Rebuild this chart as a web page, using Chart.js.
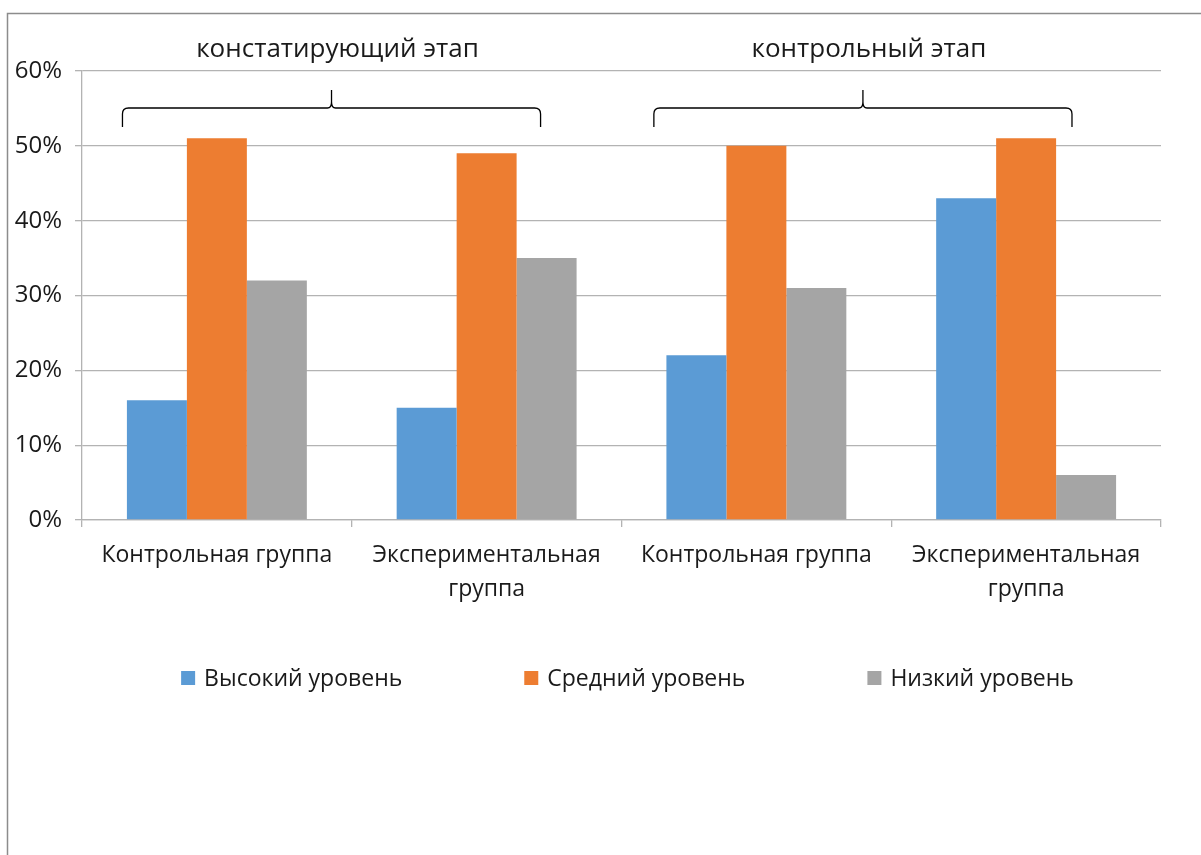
<!DOCTYPE html>
<html lang="ru">
<head>
    <meta charset="UTF-8">
    <title>Уровни по этапам</title>
    <script src="https://cdn.jsdelivr.net/npm/chart.js"></script>
    <style>
        html, body { margin: 0; padding: 0; background: #fff; }
        #wrap { width: 1201px; height: 855px; position: relative; }
    </style>
</head>
<body>
    <div id="wrap">
        <canvas id="chart" width="1201" height="855"></canvas>
    </div>

    <script>
        // data
        const categories = [
            ['Контрольная группа'],
            ['Экспериментальная', 'группа'],
            ['Контрольная группа'],
            ['Экспериментальная', 'группа']
        ];
        const seriesNames = ['Высокий уровень', 'Средний уровень', 'Низкий уровень'];
        const highLevel = [16, 15, 22, 43];
        const midLevel = [51, 49, 50, 51];
        const lowLevel = [32, 35, 31, 6];
        const yTicks = [0, 10, 20, 30, 40, 50, 60];
        const stages = ['констатирующий этап', 'контрольный этап'];

        const colors = ['#5b9bd5', '#ed7d31', '#a5a5a5'];
        const textColor = '#1a1a1a';
        const font = '"Open Sans", sans-serif';

        // brace spans in category units (left, right)
        const braceSpans = [[-0.35, 1.2], [1.62, 3.17]];

        const framePlugin = {
            id: 'frame',
            beforeDraw(chart) {
                const ctx = chart.ctx;
                ctx.save();
                ctx.strokeStyle = '#8c8c8c';
                ctx.lineWidth = 1.5;
                ctx.beginPath();
                ctx.moveTo(7.5, chart.height);
                ctx.lineTo(7.5, 13.5);
                ctx.lineTo(chart.width, 13.5);
                ctx.stroke();
                ctx.restore();
            }
        };

        const bracesPlugin = {
            id: 'braces',
            afterDraw(chart) {
                const ctx = chart.ctx;
                const x = chart.scales.x;
                ctx.save();
                ctx.strokeStyle = '#000';
                ctx.lineWidth = 1.3;
                braceSpans.forEach((span, i) => {
                    const l = x.getPixelForValue(span[0]);
                    const r = x.getPixelForValue(span[1]);
                    const m = (l + r) / 2;
                    const yEnd = 127, yLine = 108, yPeak = 90;
                    ctx.beginPath();
                    ctx.moveTo(l, yEnd);
                    ctx.lineTo(l, yLine + 6);
                    ctx.quadraticCurveTo(l, yLine, l + 6, yLine);
                    ctx.lineTo(m - 4, yLine);
                    ctx.quadraticCurveTo(m, yLine, m, yLine - 6);
                    ctx.lineTo(m, yPeak);
                    ctx.moveTo(m, yLine - 6);
                    ctx.quadraticCurveTo(m, yLine, m + 4, yLine);
                    ctx.lineTo(r - 6, yLine);
                    ctx.quadraticCurveTo(r, yLine, r, yLine + 6);
                    ctx.lineTo(r, yEnd);
                    ctx.stroke();

                    ctx.fillStyle = textColor;
                    ctx.font = '26px ' + font;
                    ctx.textAlign = 'center';
                    ctx.textBaseline = 'middle';
                    ctx.fillText(stages[i], m + 6, 50);
                });
                ctx.restore();
            }
        };

        // legend drawn under the axis labels, wide gaps like the original
        const legendPlugin = {
            id: 'wideLegend',
            afterDraw(chart) {
                const ctx = chart.ctx;
                const area = chart.chartArea;
                const gap = 122, box = 14, textGap = 9;
                ctx.save();
                ctx.font = '23px ' + font;
                ctx.textBaseline = 'middle';
                ctx.textAlign = 'left';
                const widths = chart.data.datasets.map(ds => box + textGap + ctx.measureText(ds.label).width);
                const total = widths.reduce((a, b) => a + b, 0) + gap * (widths.length - 1);
                let cx = (area.left + area.right) / 2 - total / 2 + 6;
                const cy = 678;
                chart.data.datasets.forEach((ds, i) => {
                    ctx.fillStyle = ds.backgroundColor;
                    ctx.fillRect(cx, cy - box / 2, box, box);
                    ctx.fillStyle = textColor;
                    ctx.fillText(ds.label, cx + box + textGap, cy + 1);
                    cx += widths[i] + gap;
                });
                ctx.restore();
            }
        };

        const ctx = document.getElementById('chart').getContext('2d');
        new Chart(ctx, {
            type: 'bar',
            data: {
                labels: categories,
                datasets: [
                    { label: seriesNames[0], data: highLevel, backgroundColor: colors[0] },
                    { label: seriesNames[1], data: midLevel, backgroundColor: colors[1] },
                    { label: seriesNames[2], data: lowLevel, backgroundColor: colors[2] }
                ]
            },
            options: {
                responsive: false,
                animation: false,
                layout: { padding: { left: 10, right: 40, top: 71, bottom: 245 } },
                datasets: {
                    bar: { categoryPercentage: 0.667, barPercentage: 1.0 }
                },
                plugins: {
                    legend: { display: false },
                    tooltip: { enabled: false }
                },
                scales: {
                    x: {
                        afterFit(axis) { axis.height = 90; },
                        grid: {
                            display: true,
                            drawOnChartArea: false,
                            tickLength: 7,
                            color: '#b3b3b3',
                            lineWidth: 1.3
                        },
                        border: { color: '#b3b3b3', width: 1.3 },
                        ticks: {
                            color: textColor,
                            font: { family: font, size: 23, lineHeight: 1.48 },
                            padding: 11,
                            maxRotation: 0
                        }
                    },
                    y: {
                        min: 0,
                        max: 60,
                        afterFit(axis) { axis.width = 72; },
                        afterBuildTicks(axis) {
                            axis.ticks = yTicks.map(v => ({ value: v }));
                        },
                        grid: {
                            color: '#b3b3b3',
                            lineWidth: 1.3,
                            tickLength: 7
                        },
                        border: { color: '#b3b3b3', width: 1.3 },
                        ticks: {
                            color: textColor,
                            font: { family: font, size: 24 },
                            padding: 13,
                            callback: v => v + '%'
                        }
                    }
                }
            },
            plugins: [framePlugin, bracesPlugin, legendPlugin]
        });
    </script>
</body>
</html>
